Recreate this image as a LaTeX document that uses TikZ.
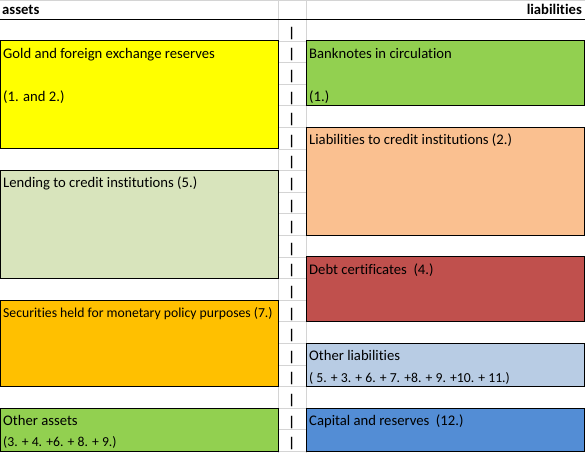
\documentclass[tikz,border=0pt]{standalone}
\usepackage{fontspec}
\setmainfont{Carlito}[Ligatures={NoCommon}]
\definecolor{cyellow}{HTML}{FFFF00}
\definecolor{clgreen}{HTML}{D8E4BC}
\definecolor{corange}{HTML}{FFC000}
\definecolor{cgreen}{HTML}{92D050}
\definecolor{cpeach}{HTML}{FAC090}
\definecolor{cred}{HTML}{C0504D}
\definecolor{clblue}{HTML}{B8CCE4}
\definecolor{cblue}{HTML}{538DD5}
\definecolor{cgrid}{HTML}{D4D4D4}
\tikzset{
  grid/.style={draw=cgrid, line width=0.8pt},
  box/.style={draw=black, line width=0.9pt},
  txt/.style={anchor=base west, inner sep=0pt, font=\fontsize{14.67}{17}\selectfont},
  stxt/.style={anchor=base west, inner sep=0pt, font=\fontsize{13.7}{17}\selectfont},
  bar/.style={anchor=base, inner sep=0pt, font=\bfseries\fontsize{14}{17}\selectfont},
}
\begin{document}
\begin{tikzpicture}[x=1pt,y=-1pt]
\useasboundingbox (0,0) rectangle (585,453);
\fill[white] (0,0) rectangle (585,453);
% grid
\draw[grid] (0,0.4) -- (585,0.4);
\draw[grid] (278,0) -- (278,453);
\draw[grid] (306,0) -- (306,453);
\foreach \k in {1,...,20} {
  \draw[grid] (278,{19.3+21.6*\k}) -- (306,{19.3+21.6*\k});
}
% header
\node[txt, font=\bfseries\fontsize{14.67}{17}\selectfont] (hA) at (2,14) {assets};
\node[anchor=base east, inner sep=0pt, font=\bfseries\fontsize{14.67}{17}\selectfont] (hL) at (582,14) {liabilities};
\draw[black, line width=1pt] (0,19.3) -- (585,19.3);
% boxes left
\draw[box, fill=cyellow] (0,40.9) rectangle (278,148.9);
\draw[box, fill=clgreen] (0,170.5) rectangle (278,278.5);
\draw[box, fill=corange] (0,300.1) rectangle (278,386.5);
\draw[box, fill=cgreen] (0,408.1) rectangle (278,451.3);
% boxes right
\draw[box, fill=cgreen] (306,40.9) rectangle (584,105.7);
\draw[box, fill=cpeach] (306,127.3) rectangle (584,235.3);
\draw[box, fill=cred] (306,256.9) rectangle (584,321.7);
\draw[box, fill=clblue] (306,343.3) rectangle (584,386.5);
\draw[box, fill=cblue] (306,408.1) rectangle (584,451.3);
% texts left
\node[txt] (t1) at (3,58) {Gold and foreign exchange reserves};
\node[txt] (t2) at (3,101.2) {(1. and 2.)};
\node[txt] (t3) at (3,187.6) {Lending to credit institutions (5.)};
\node[stxt] (t4) at (3,317.2) {Securities held for monetary policy purposes (7.)};
\node[txt] (t5) at (3,425.2) {Other assets};
\node[stxt] (t6) at (3,446.8) {(3. + 4. +6. + 8. + 9.)};
% texts right
\node[txt] (r1) at (309,58) {Banknotes in circulation};
\node[txt] (r2) at (309,101.2) {(1.)};
\node[txt] (r3) at (309,144.4) {Liabilities to credit institutions (2.)};
\node[txt] (r4) at (309,274) {Debt certificates\ \ (4.)};
\node[txt] (r5) at (309,360.4) {Other liabilities};
\node[stxt] (r6) at (309,382) {( 5. + 3. + 6. + 7. +8. + 9. +10. + 11.)};
\node[txt] (r7) at (309,425.2) {Capital and reserves\ \ (12.)};
% bars
\foreach \k in {0,...,19} {
  \node[bar] (b\k) at (291.7,{19.3+21.6*\k+18}) {|};
}
\end{tikzpicture}
\end{document}
